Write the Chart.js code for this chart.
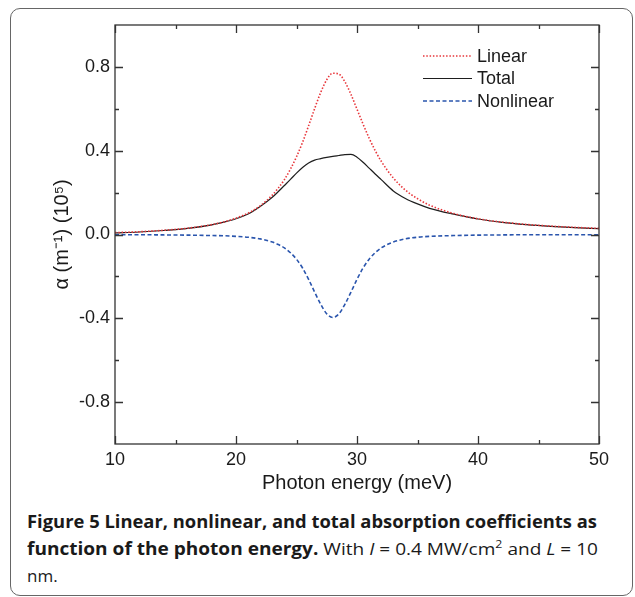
<!DOCTYPE html>
<html>
<head>
<meta charset="utf-8">
<script src="https://cdn.jsdelivr.net/npm/chart.js@4.4.1/dist/chart.umd.min.js"></script>
<style>
html, body { margin: 0; padding: 0; background: #fff; }
body { width: 635px; height: 597px; position: relative; overflow: hidden; }
#frame { position: absolute; left: 10px; top: 8px; width: 623px; height: 588px; border: 1px solid #666; border-radius: 10px; box-sizing: border-box; }
#plot { position: absolute; left: 0; top: 0; }
.cap { position: absolute; left: 27px; font-family: "Open Sans"; font-size: 17px; line-height: 20px; color: #1a1a1a; white-space: nowrap; transform-origin: 0 50%; }
.cap sup { font-size: 11px; line-height: 0; }
</style>
</head>
<body>
<div id="frame"></div>
<canvas id="plot" width="635" height="500"></canvas>
<div class="cap" id="cap1" style="top:512px"><b>Figure 5 Linear, nonlinear, and total absorption coefficients as</b></div>
<div class="cap" id="cap2" style="top:539px"><b>function of the photon energy.</b> With <i>I</i> = 0.4 MW/cm<sup>2</sup> and <i>L</i> = 10</div>
<div class="cap" id="cap3" style="top:566px">nm.</div>
<script>
// data

const energy = [10, 12, 14, 16, 18, 19, 20, 21, 22, 23, 23.5, 24, 24.5, 25, 25.5, 26, 26.5, 27, 27.5, 28,
    28.5, 29, 29.5, 30, 30.5, 31, 31.5, 32, 33, 34, 35, 36, 38, 40, 42, 44, 46, 48, 50];

const linearAbs = [0.009, 0.013, 0.020, 0.030, 0.047, 0.060, 0.078, 0.102, 0.137, 0.188, 0.222, 0.262, 0.312, 0.371, 0.440, 0.519, 0.601, 0.678, 0.739, 0.770,
    0.766, 0.729, 0.669, 0.598, 0.527, 0.460, 0.401, 0.350, 0.270, 0.212, 0.171, 0.140, 0.100, 0.075, 0.059, 0.048, 0.040, 0.034, 0.029];

const totalAbs = [0.008, 0.012, 0.019, 0.029, 0.046, 0.059, 0.075, 0.098, 0.134, 0.178, 0.205, 0.234, 0.263, 0.293, 0.320, 0.341, 0.355, 0.362, 0.368, 0.373,
    0.377, 0.381, 0.382, 0.369, 0.345, 0.317, 0.289, 0.262, 0.208, 0.172, 0.146, 0.125, 0.097, 0.074, 0.058, 0.047, 0.039, 0.033, 0.028];

const nonlinearAbs = [-0.001, -0.001, -0.002, -0.003, -0.005, -0.006, -0.009, -0.013, -0.021, -0.036, -0.048, -0.064, -0.087, -0.118, -0.160, -0.214, -0.275, -0.333, -0.379, -0.396,
    -0.379, -0.333, -0.275, -0.214, -0.160, -0.118, -0.087, -0.064, -0.036, -0.021, -0.013, -0.009, -0.005, -0.003, -0.002, -0.001, -0.001, -0.001, -0.001];

const seriesNames = ['Linear', 'Total', 'Nonlinear'];

const xTicks = [10, 20, 30, 40, 50];
const xMinorTicks = [15, 25, 35, 45];
const yTicks = [-0.8, -0.4, 0, 0.4, 0.8];
const yMinorTicks = [-0.6, -0.2, 0.2, 0.6];

// plugins

const axisFont = {family: '"Liberation Sans", Arial, sans-serif', size: 18};

// box round the plot with inward ticks on all four sides
const frameTicks = {
    id: 'frameTicks',
    afterDraw(chart){
        const {ctx, chartArea: a, scales: {x, y}} = chart;
        ctx.save();
        ctx.strokeStyle = '#333';
        ctx.lineWidth = 1.3;
        ctx.strokeRect(a.left, a.top, a.right - a.left, a.bottom - a.top);
        ctx.beginPath();
        const xt = (vals, len) => vals.forEach(v => {
            const px = Math.round(x.getPixelForValue(v)) + 0.5;
            ctx.moveTo(px, a.bottom); ctx.lineTo(px, a.bottom - len);
            ctx.moveTo(px, a.top); ctx.lineTo(px, a.top + len);
        });
        const yt = (vals, len) => vals.forEach(v => {
            const py = Math.round(y.getPixelForValue(v)) + 0.5;
            ctx.moveTo(a.left, py); ctx.lineTo(a.left + len, py);
            ctx.moveTo(a.right, py); ctx.lineTo(a.right - len, py);
        });
        xt(xTicks, 8); xt(xMinorTicks, 4);
        yt(yTicks, 8); yt(yMinorTicks, 4);
        ctx.stroke();
        ctx.restore();
    }
};

// legend inside the plot, top right
const innerLegend = {
    id: 'innerLegend',
    afterDraw(chart){
        const ctx = chart.ctx;
        ctx.save();
        ctx.font = '18px "Liberation Sans", Arial, sans-serif';
        ctx.textBaseline = 'middle';
        chart.data.datasets.forEach((ds, i) => {
            const yy = 56 + i * 22.5;
            ctx.strokeStyle = ds.borderColor;
            ctx.lineWidth = ds.borderWidth;
            ctx.setLineDash(ds.borderDash || []);
            ctx.beginPath();
            ctx.moveTo(423, yy); ctx.lineTo(472, yy);
            ctx.stroke();
            ctx.setLineDash([]);
            ctx.fillStyle = '#1a1a1a';
            ctx.fillText(ds.label, 477, yy + 1);
        });
        ctx.restore();
    }
};

// chart

const pts = vals => energy.map((e, i) => ({x: e, y: vals[i]}));

new Chart('plot', {
    type: 'line',
    data: {
        datasets: [{
            label: seriesNames[0],
            data: pts(linearAbs),
            borderColor: '#e8363b',
            borderWidth: 1.6,
            borderDash: [1.5, 1.8]
        }, {
            label: seriesNames[1],
            data: pts(totalAbs),
            borderColor: '#1e1e1e',
            borderWidth: 1.2
        }, {
            label: seriesNames[2],
            data: pts(nonlinearAbs),
            borderColor: '#2a55ad',
            borderWidth: 1.6,
            borderDash: [4, 2.5]
        }]
    },
    options: {
        responsive: false,
        animation: false,
        elements: {point: {radius: 0}, line: {cubicInterpolationMode: 'monotone'}},
        layout: {padding: {left: 0, right: 36, top: 25, bottom: 0}},
        plugins: {legend: {display: false}, tooltip: {enabled: false}},
        scales: {
            x: {
                type: 'linear',
                min: 10,
                max: 50,
                afterBuildTicks: s => { s.ticks = xTicks.map(v => ({value: v})); },
                afterFit: s => { s.height = 56; },
                grid: {display: false, drawTicks: false},
                border: {display: false},
                ticks: {font: axisFont, color: '#1a1a1a', padding: 5, maxRotation: 0},
                title: {
                    display: true,
                    text: 'Photon energy (meV)',
                    font: {family: axisFont.family, size: 20},
                    color: '#1a1a1a',
                    padding: {top: 0, bottom: 5}
                }
            },
            y: {
                min: -1,
                max: 1,
                afterBuildTicks: s => { s.ticks = yTicks.map(v => ({value: v})); },
                afterFit: s => { s.width = 115; },
                grid: {display: false, drawTicks: false},
                border: {display: false},
                ticks: {font: axisFont, color: '#1a1a1a', padding: 5, callback: v => v.toFixed(1)},
                title: {
                    display: true,
                    text: 'α (m⁻¹) (10⁵)',
                    font: {family: axisFont.family, size: 20},
                    color: '#1a1a1a',
                    padding: {top: 50, bottom: 0}
                }
            }
        }
    },
    plugins: [frameTicks, innerLegend]
});

// squeeze the caption lines to the figure's text width
[['cap1', 570], ['cap2', 571]].forEach(([id, w]) => {
    const el = document.getElementById(id);
    el.style.transform = 'scaleX(' + (w / el.getBoundingClientRect().width) + ')';
});
</script>
</body>
</html>
